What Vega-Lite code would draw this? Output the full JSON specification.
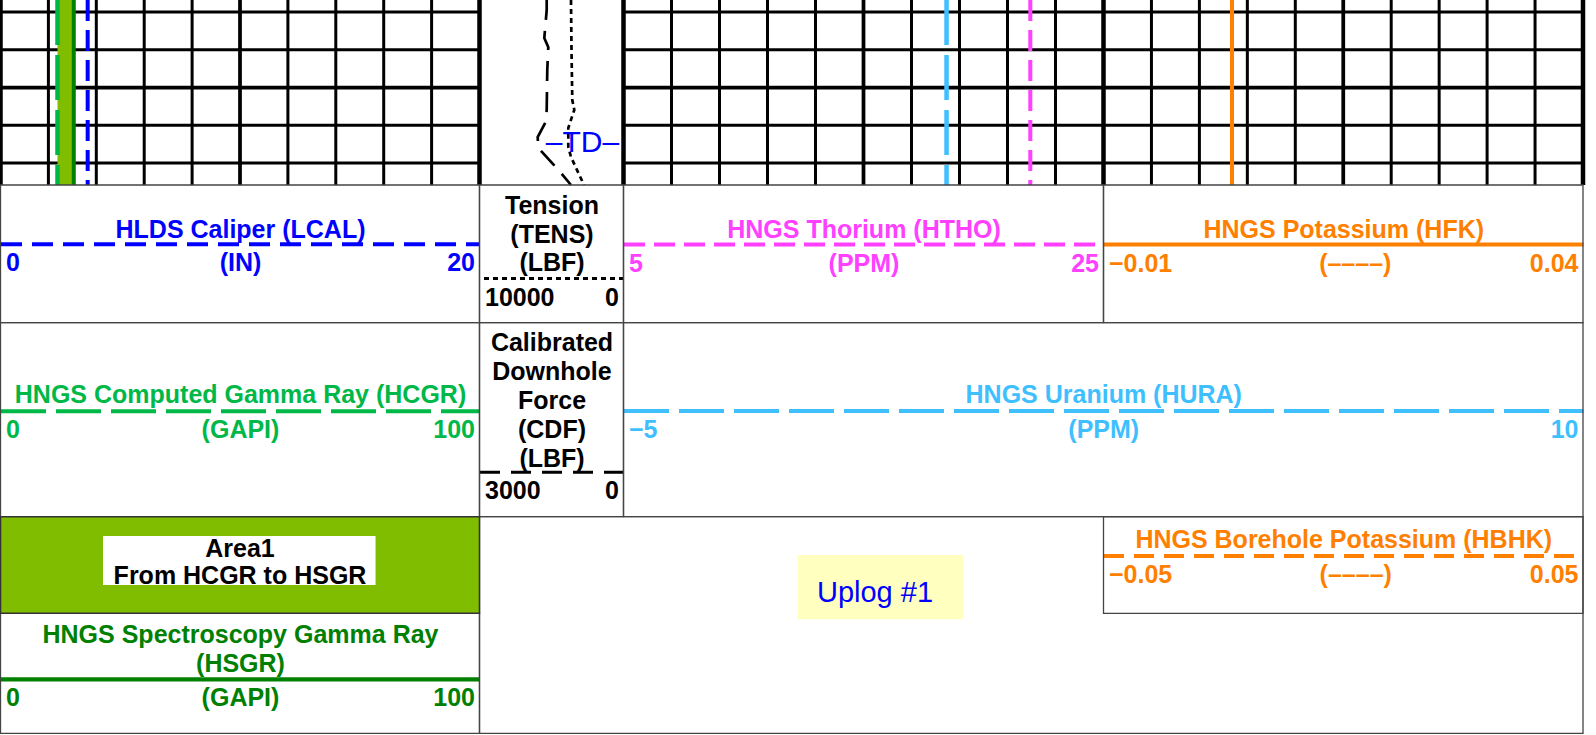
{
  "$schema": "https://vega.github.io/schema/vega-lite/v6.json",
  "width": 1596,
  "height": 735,
  "autosize": {"type": "none"},
  "padding": 0,
  "background": "white",
  "config": {
    "view": {"stroke": null},
    "axis": {
      "grid": false,
      "ticks": false,
      "tickSize": 0,
      "domainCap": "butt",
      "labelFont": "Liberation Sans",
      "labelFontSize": 25,
      "labelFontWeight": "bold",
      "labelPadding": 7,
      "labelFlush": true,
      "labelFlushOffset": -5,
      "labelOverlap": false,
      "labelBound": false,
      "titleFont": "Liberation Sans",
      "titleFontSize": 25,
      "titleFontWeight": "bold",
      "titleAlign": "center",
      "titleBaseline": "alphabetic",
      "zindex": 1
    },
    "text": {"font": "Liberation Sans"}
  },
  "datasets": {
    "logs": [
      {"depth": 5406.8, "LCAL": 3.64, "HCGR": 11.9, "HSGR": 15.3, "HTHO": 21.95, "HURA": 0.05, "HFK": 0.0034},
      {"depth": 5455.8, "LCAL": 3.64, "HCGR": 11.9, "HSGR": 15.3, "HTHO": 21.95, "HURA": 0.05, "HFK": 0.0034}
    ],
    "tens": [
      {"depth": 5406.8, "TENS": 3646},
      {"depth": 5420.0, "TENS": 3611},
      {"depth": 5433.3, "TENS": 3556},
      {"depth": 5435.9, "TENS": 3417},
      {"depth": 5440.7, "TENS": 3833},
      {"depth": 5445.7, "TENS": 3833},
      {"depth": 5448.4, "TENS": 3646},
      {"depth": 5455.8, "TENS": 2743}
    ],
    "cdf": [
      {"depth": 5406.8, "CDF": 1600},
      {"depth": 5409.5, "CDF": 1600},
      {"depth": 5416.9, "CDF": 1650},
      {"depth": 5419.3, "CDF": 1567},
      {"depth": 5425.3, "CDF": 1588},
      {"depth": 5435.9, "CDF": 1600},
      {"depth": 5439.1, "CDF": 1621},
      {"depth": 5443.1, "CDF": 1788},
      {"depth": 5446.0, "CDF": 1775},
      {"depth": 5451.8, "CDF": 1358},
      {"depth": 5455.8, "CDF": 1094}
    ],
    "gridV": [
      {"u": 0, "kind": "border"}, {"u": 1, "kind": "minor"}, {"u": 2, "kind": "minor"}, {"u": 3, "kind": "minor"}, {"u": 4, "kind": "minor"},
      {"u": 5, "kind": "major"}, {"u": 6, "kind": "minor"}, {"u": 7, "kind": "minor"}, {"u": 8, "kind": "minor"}, {"u": 9, "kind": "minor"},
      {"u": 10, "kind": "border"},
      {"u": 20, "kind": "border"}, {"u": 21, "kind": "minor"}, {"u": 22, "kind": "minor"}, {"u": 23, "kind": "minor"}, {"u": 24, "kind": "minor"},
      {"u": 25, "kind": "major"}, {"u": 26, "kind": "minor"}, {"u": 27, "kind": "minor"}, {"u": 28, "kind": "minor"}, {"u": 29, "kind": "minor"},
      {"u": 30, "kind": "border"}, {"u": 31, "kind": "minor"}, {"u": 32, "kind": "minor"}, {"u": 33, "kind": "minor"}, {"u": 34, "kind": "minor"},
      {"u": 35, "kind": "major"}, {"u": 36, "kind": "minor"}, {"u": 37, "kind": "minor"}, {"u": 38, "kind": "minor"}, {"u": 39, "kind": "minor"},
      {"u": 40, "kind": "border"}
    ],
    "gridH": [
      {"depth": 5410, "kind": "minor"},
      {"depth": 5420, "kind": "minor"},
      {"depth": 5430, "kind": "major"},
      {"depth": 5440, "kind": "minor"},
      {"depth": 5450, "kind": "minor"}
    ],
    "cells": [
      {"cell": "LCAL", "t0": 0, "t1": 10, "r0": 0, "r1": 1},
      {"cell": "TENS", "t0": 10, "t1": 20, "r0": 0, "r1": 1},
      {"cell": "HTHO", "t0": 20, "t1": 30, "r0": 0, "r1": 1},
      {"cell": "HFK", "t0": 30, "t1": 40, "r0": 0, "r1": 1},
      {"cell": "HCGR", "t0": 0, "t1": 10, "r0": 1, "r1": 2},
      {"cell": "CDF", "t0": 10, "t1": 20, "r0": 1, "r1": 2},
      {"cell": "HURA", "t0": 20, "t1": 40, "r0": 1, "r1": 2},
      {"cell": "HSGR", "t0": 0, "t1": 10, "r0": 3, "r1": 4},
      {"cell": "Uplog", "t0": 10, "t1": 40, "r0": 2, "r1": 4},
      {"cell": "HBHK", "t0": 30, "t1": 40, "r0": 2, "r1": 3}
    ],
    "one": [{}]
  },
  "resolve": {"scale": {"x": "independent", "y": "independent"}, "axis": {"x": "independent", "y": "independent"}},
  "layer": [
    {
      "data": {"name": "gridV"},
      "mark": {"type": "rule", "color": "black"},
      "encoding": {
        "x": {"field": "u", "type": "quantitative", "axis": null,
              "scale": {"domain": [0, 10, 20, 30, 40], "range": [0.5, 479.5, 623.5, 1103.5, 1583], "nice": false, "zero": false}},
        "y": {"datum": 5406.8, "type": "quantitative", "axis": null,
              "scale": {"domain": [5406.8, 5455.8], "range": [0, 185], "nice": false, "zero": false}},
        "y2": {"datum": 5455.8},
        "strokeWidth": {"field": "kind", "type": "nominal", "legend": null,
                        "scale": {"domain": ["border", "major", "minor"], "range": [4.5, 3, 1.7]}}
      }
    },
    {
      "data": {"name": "gridH"},
      "mark": {"type": "rule", "color": "black"},
      "encoding": {
        "y": {"field": "depth", "type": "quantitative", "axis": null,
              "scale": {"domain": [5406.8, 5455.8], "range": [0, 185], "nice": false, "zero": false}},
        "x": {"datum": 0, "type": "quantitative", "axis": null,
              "scale": {"domain": [0, 10, 20, 30, 40], "range": [0.5, 479.5, 623.5, 1103.5, 1583], "nice": false, "zero": false}},
        "x2": {"datum": 10},
        "strokeWidth": {"field": "kind", "type": "nominal", "legend": null,
                        "scale": {"domain": ["major", "minor"], "range": [2.2, 1.3]}}
      }
    },
    {
      "data": {"name": "gridH"},
      "mark": {"type": "rule", "color": "black"},
      "encoding": {
        "y": {"field": "depth", "type": "quantitative", "axis": null,
              "scale": {"domain": [5406.8, 5455.8], "range": [0, 185], "nice": false, "zero": false}},
        "x": {"datum": 20, "type": "quantitative", "axis": null,
              "scale": {"domain": [0, 10, 20, 30, 40], "range": [0.5, 479.5, 623.5, 1103.5, 1583], "nice": false, "zero": false}},
        "x2": {"datum": 40},
        "strokeWidth": {"field": "kind", "type": "nominal", "legend": null,
                        "scale": {"domain": ["major", "minor"], "range": [2.2, 1.3]}}
      }
    },
    {
      "data": {"name": "logs"},
      "mark": {"type": "area", "orient": "horizontal", "color": "#80BC00"},
      "encoding": {
        "y": {"field": "depth", "type": "quantitative", "axis": null,
              "scale": {"domain": [5406.8, 5455.8], "range": [0, 185], "nice": false, "zero": false}},
        "x": {"field": "HCGR", "type": "quantitative", "axis": null,
              "scale": {"domain": [0, 100], "range": [0.5, 479.5], "nice": false, "zero": false}},
        "x2": {"field": "HSGR"}
      }
    },
    {
      "data": {"name": "logs"},
      "mark": {"type": "line", "color": "#00B847", "strokeWidth": 4.5, "strokeDash": [45, 10]},
      "encoding": {
        "y": {"field": "depth", "type": "quantitative", "axis": null,
              "scale": {"domain": [5406.8, 5455.8], "range": [0, 185], "nice": false, "zero": false}},
        "x": {"field": "HCGR", "type": "quantitative",
              "scale": {"domain": [0, 100], "range": [0.5, 479.5], "nice": false, "zero": false},
              "axis": {"orient": "bottom", "offset": -324.3, "values": [0, 50, 100], "format": "d",
                       "labelExpr": "datum.value == 50 ? '(GAPI)' : datum.label",
                       "labelColor": "#00B847", "title": "HNGS Computed Gamma Ray (HCGR)", "titleColor": "#00B847",
                       "titleY": -8.4, "domainColor": "#00B847", "domainWidth": 4, "domainDash": [45, 10]}},
        "order": {"field": "depth", "type": "quantitative"}
      }
    },
    {
      "data": {"name": "logs"},
      "mark": {"type": "line", "color": "#008000", "strokeWidth": 4},
      "encoding": {
        "y": {"field": "depth", "type": "quantitative", "axis": null,
              "scale": {"domain": [5406.8, 5455.8], "range": [0, 185], "nice": false, "zero": false}},
        "x": {"field": "HSGR", "type": "quantitative",
              "scale": {"domain": [0, 100], "range": [0.5, 479.5], "nice": false, "zero": false},
              "axis": {"orient": "bottom", "offset": -56.2, "values": [0, 50, 100], "format": "d",
                       "labelExpr": "datum.value == 50 ? '(GAPI)' : datum.label",
                       "labelColor": "#008000", "title": ["HNGS Spectroscopy Gamma Ray", "(HSGR)"], "titleColor": "#008000",
                       "titleY": -36.5, "titleLineHeight": 29.4, "domainColor": "#008000", "domainWidth": 4.3}},
        "order": {"field": "depth", "type": "quantitative"}
      }
    },
    {
      "data": {"name": "logs"},
      "mark": {"type": "line", "color": "#0000FF", "strokeWidth": 4, "strokeDash": [21, 9]},
      "encoding": {
        "y": {"field": "depth", "type": "quantitative", "axis": null,
              "scale": {"domain": [5406.8, 5455.8], "range": [0, 185], "nice": false, "zero": false}},
        "x": {"field": "LCAL", "type": "quantitative",
              "scale": {"domain": [0, 20], "range": [0.5, 479.5], "nice": false, "zero": false},
              "axis": {"orient": "bottom", "offset": -491.2, "values": [0, 10, 20], "format": "d",
                       "labelExpr": "datum.value == 10 ? '(IN)' : datum.label",
                       "labelColor": "#0000FF", "title": "HLDS Caliper (LCAL)", "titleColor": "#0000FF",
                       "titleY": -6.5, "domainColor": "#0000FF", "domainWidth": 4, "domainDash": [21, 10]}},
        "order": {"field": "depth", "type": "quantitative"}
      }
    },
    {
      "data": {"name": "tens"},
      "mark": {"type": "line", "color": "black", "strokeWidth": 2.7, "strokeDash": [5, 4]},
      "encoding": {
        "y": {"field": "depth", "type": "quantitative", "axis": null,
              "scale": {"domain": [5406.8, 5455.8], "range": [0, 185], "nice": false, "zero": false}},
        "x": {"field": "TENS", "type": "quantitative",
              "scale": {"domain": [0, 10000], "range": [623.5, 479.5], "nice": false, "zero": false},
              "axis": {"orient": "bottom", "offset": -457, "values": [10000, 0], "format": "d",
                       "labelColor": "black", "title": ["Tension", "(TENS)", "(LBF)"], "titleColor": "black",
                       "titleY": -64.2, "titleLineHeight": 28.5, "domainColor": "black", "domainWidth": 3, "domainDash": [5, 4]}},
        "order": {"field": "depth", "type": "quantitative"}
      }
    },
    {
      "data": {"name": "cdf"},
      "mark": {"type": "line", "color": "black", "strokeWidth": 2.7, "strokeDash": [20, 11]},
      "encoding": {
        "y": {"field": "depth", "type": "quantitative", "axis": null,
              "scale": {"domain": [5406.8, 5455.8], "range": [0, 185], "nice": false, "zero": false}},
        "x": {"field": "CDF", "type": "quantitative",
              "scale": {"domain": [0, 3000], "range": [623.5, 479.5], "nice": false, "zero": false},
              "axis": {"orient": "bottom", "offset": -263.3, "values": [3000, 0], "format": "d",
                       "labelColor": "black", "title": ["Calibrated", "Downhole", "Force", "(CDF)", "(LBF)"], "titleColor": "black",
                       "titleY": -121.7, "titleLineHeight": 29.2, "domainColor": "black", "domainWidth": 3, "domainDash": [20, 11]}},
        "order": {"field": "depth", "type": "quantitative"}
      }
    },
    {
      "data": {"name": "logs"},
      "mark": {"type": "line", "color": "#FF40FF", "strokeWidth": 4, "strokeDash": [21, 9]},
      "encoding": {
        "y": {"field": "depth", "type": "quantitative", "axis": null,
              "scale": {"domain": [5406.8, 5455.8], "range": [0, 185], "nice": false, "zero": false}},
        "x": {"field": "HTHO", "type": "quantitative",
              "scale": {"domain": [5, 25], "range": [623.5, 1103.5], "nice": false, "zero": false},
              "axis": {"orient": "bottom", "offset": -491, "values": [5, 15, 25], "format": "d",
                       "labelExpr": "datum.value == 15 ? '(PPM)' : datum.label",
                       "labelColor": "#FF40FF", "title": "HNGS Thorium (HTHO)", "titleColor": "#FF40FF",
                       "titleY": -7, "domainColor": "#FF40FF", "domainWidth": 4, "domainDash": [21, 9]}},
        "order": {"field": "depth", "type": "quantitative"}
      }
    },
    {
      "data": {"name": "logs"},
      "mark": {"type": "line", "color": "#40BFFF", "strokeWidth": 4.5, "strokeDash": [45, 10]},
      "encoding": {
        "y": {"field": "depth", "type": "quantitative", "axis": null,
              "scale": {"domain": [5406.8, 5455.8], "range": [0, 185], "nice": false, "zero": false}},
        "x": {"field": "HURA", "type": "quantitative",
              "scale": {"domain": [-5, 10], "range": [623.5, 1583], "nice": false, "zero": false},
              "axis": {"orient": "bottom", "offset": -324.5, "values": [-5, 2.5, 10], "format": "d",
                       "labelExpr": "datum.value == 2.5 ? '(PPM)' : datum.label",
                       "labelColor": "#40BFFF", "title": "HNGS Uranium (HURA)", "titleColor": "#40BFFF",
                       "titleY": -8.4, "domainColor": "#40BFFF", "domainWidth": 4, "domainDash": [45, 10]}},
        "order": {"field": "depth", "type": "quantitative"}
      }
    },
    {
      "data": {"name": "logs"},
      "mark": {"type": "line", "color": "#FF8000", "strokeWidth": 4},
      "encoding": {
        "y": {"field": "depth", "type": "quantitative", "axis": null,
              "scale": {"domain": [5406.8, 5455.8], "range": [0, 185], "nice": false, "zero": false}},
        "x": {"field": "HFK", "type": "quantitative",
              "scale": {"domain": [-0.01, 0.04], "range": [1103.5, 1583], "nice": false, "zero": false},
              "axis": {"orient": "bottom", "offset": -491, "values": [-0.01, 0.0162, 0.04], "format": ".2f",
                       "labelExpr": "datum.value > 0 && datum.value < 0.03 ? '(––––)' : datum.label",
                       "labelColor": "#FF8000", "title": "HNGS Potassium (HFK)", "titleColor": "#FF8000",
                       "titleY": -7, "domainColor": "#FF8000", "domainWidth": 4}},
        "order": {"field": "depth", "type": "quantitative"}
      }
    },
    {
      "data": {"values": []},
      "mark": {"type": "line", "color": "#FF8000", "strokeWidth": 4, "strokeDash": [20, 10]},
      "encoding": {
        "y": {"field": "depth", "type": "quantitative", "axis": null,
              "scale": {"domain": [5406.8, 5455.8], "range": [0, 185], "nice": false, "zero": false}},
        "x": {"field": "HBHK", "type": "quantitative",
              "scale": {"domain": [-0.05, 0.05], "range": [1103.5, 1583], "nice": false, "zero": false},
              "axis": {"orient": "bottom", "offset": -179.4, "values": [-0.05, 0.0025, 0.05], "format": ".2f",
                       "labelExpr": "datum.value > -0.01 && datum.value < 0.01 ? '(––––)' : datum.label",
                       "labelColor": "#FF8000", "title": "HNGS Borehole Potassium (HBHK)", "titleColor": "#FF8000",
                       "titleY": -7.8, "domainColor": "#FF8000", "domainWidth": 4, "domainDash": [20, 10]}},
        "order": {"field": "depth", "type": "quantitative"}
      }
    },
    {
      "data": {"name": "one"},
      "mark": {"type": "text", "text": "–TD–", "fontSize": 30, "color": "#0000FF", "align": "center", "baseline": "alphabetic"},
      "encoding": {
        "x": {"datum": 2847, "type": "quantitative", "axis": null,
              "scale": {"domain": [0, 10000], "range": [623.5, 479.5], "nice": false, "zero": false}},
        "y": {"datum": 5447.0, "type": "quantitative", "axis": null,
              "scale": {"domain": [5406.8, 5455.8], "range": [0, 185], "nice": false, "zero": false}}
      }
    },
    {
      "data": {"name": "cells"},
      "mark": {"type": "rect", "filled": false, "stroke": "#444444", "strokeWidth": 1.3},
      "encoding": {
        "x": {"field": "t0", "type": "quantitative", "axis": null,
              "scale": {"domain": [0, 10, 20, 30, 40], "range": [0.5, 479.5, 623.5, 1103.5, 1583], "nice": false, "zero": false}},
        "x2": {"field": "t1"},
        "y": {"field": "r0", "type": "quantitative", "axis": null,
              "scale": {"domain": [0, 1, 2, 3, 4], "range": [185, 322.7, 516.7, 613.3, 733.3], "nice": false, "zero": false}},
        "y2": {"field": "r1"}
      }
    },
    {
      "data": {"name": "one"},
      "mark": {"type": "rect", "fill": "#80BC00", "stroke": "#333333", "strokeWidth": 1.5},
      "encoding": {
        "x": {"datum": 0, "type": "quantitative", "axis": null,
              "scale": {"domain": [0, 10, 20, 30, 40], "range": [0.5, 479.5, 623.5, 1103.5, 1583], "nice": false, "zero": false}},
        "x2": {"datum": 10},
        "y": {"datum": 2, "type": "quantitative", "axis": null,
              "scale": {"domain": [0, 1, 2, 3, 4], "range": [185, 322.7, 516.7, 613.3, 733.3], "nice": false, "zero": false}},
        "y2": {"datum": 3}
      }
    },
    {
      "data": {"name": "one"},
      "mark": {"type": "rect", "fill": "white"},
      "encoding": {
        "x": {"datum": 2.14, "type": "quantitative", "axis": null,
              "scale": {"domain": [0, 10, 20, 30, 40], "range": [0.5, 479.5, 623.5, 1103.5, 1583], "nice": false, "zero": false}},
        "x2": {"datum": 7.83},
        "y": {"datum": 2.2, "type": "quantitative", "axis": null,
              "scale": {"domain": [0, 1, 2, 3, 4], "range": [185, 322.7, 516.7, 613.3, 733.3], "nice": false, "zero": false}},
        "y2": {"datum": 2.707}
      }
    },
    {
      "data": {"name": "one"},
      "mark": {"type": "text", "text": "Area1\nFrom HCGR to HSGR", "lineBreak": "\n", "lineHeight": 27.6,
               "fontSize": 25, "fontWeight": "bold", "color": "black", "align": "center", "baseline": "alphabetic"},
      "encoding": {
        "x": {"datum": 5, "type": "quantitative", "axis": null,
              "scale": {"domain": [0, 10, 20, 30, 40], "range": [0.5, 479.5, 623.5, 1103.5, 1583], "nice": false, "zero": false}},
        "y": {"datum": 2.414, "type": "quantitative", "axis": null,
              "scale": {"domain": [0, 1, 2, 3, 4], "range": [185, 322.7, 516.7, 613.3, 733.3], "nice": false, "zero": false}}
      }
    },
    {
      "data": {"name": "one"},
      "mark": {"type": "rect", "fill": "#FFFFC0"},
      "encoding": {
        "x": {"datum": 23.63, "type": "quantitative", "axis": null,
              "scale": {"domain": [0, 10, 20, 30, 40], "range": [0.5, 479.5, 623.5, 1103.5, 1583], "nice": false, "zero": false}},
        "x2": {"datum": 27.08},
        "y": {"datum": 2.396, "type": "quantitative", "axis": null,
              "scale": {"domain": [0, 1, 2, 3, 4], "range": [185, 322.7, 516.7, 613.3, 733.3], "nice": false, "zero": false}},
        "y2": {"datum": 3.05}
      }
    },
    {
      "data": {"name": "one"},
      "mark": {"type": "text", "text": "Uplog #1", "fontSize": 29, "color": "#0000FF", "align": "center", "baseline": "alphabetic"},
      "encoding": {
        "x": {"datum": 25.24, "type": "quantitative", "axis": null,
              "scale": {"domain": [0, 10, 20, 30, 40], "range": [0.5, 479.5, 623.5, 1103.5, 1583], "nice": false, "zero": false}},
        "y": {"datum": 2.88, "type": "quantitative", "axis": null,
              "scale": {"domain": [0, 1, 2, 3, 4], "range": [185, 322.7, 516.7, 613.3, 733.3], "nice": false, "zero": false}}
      }
    }
  ]
}
